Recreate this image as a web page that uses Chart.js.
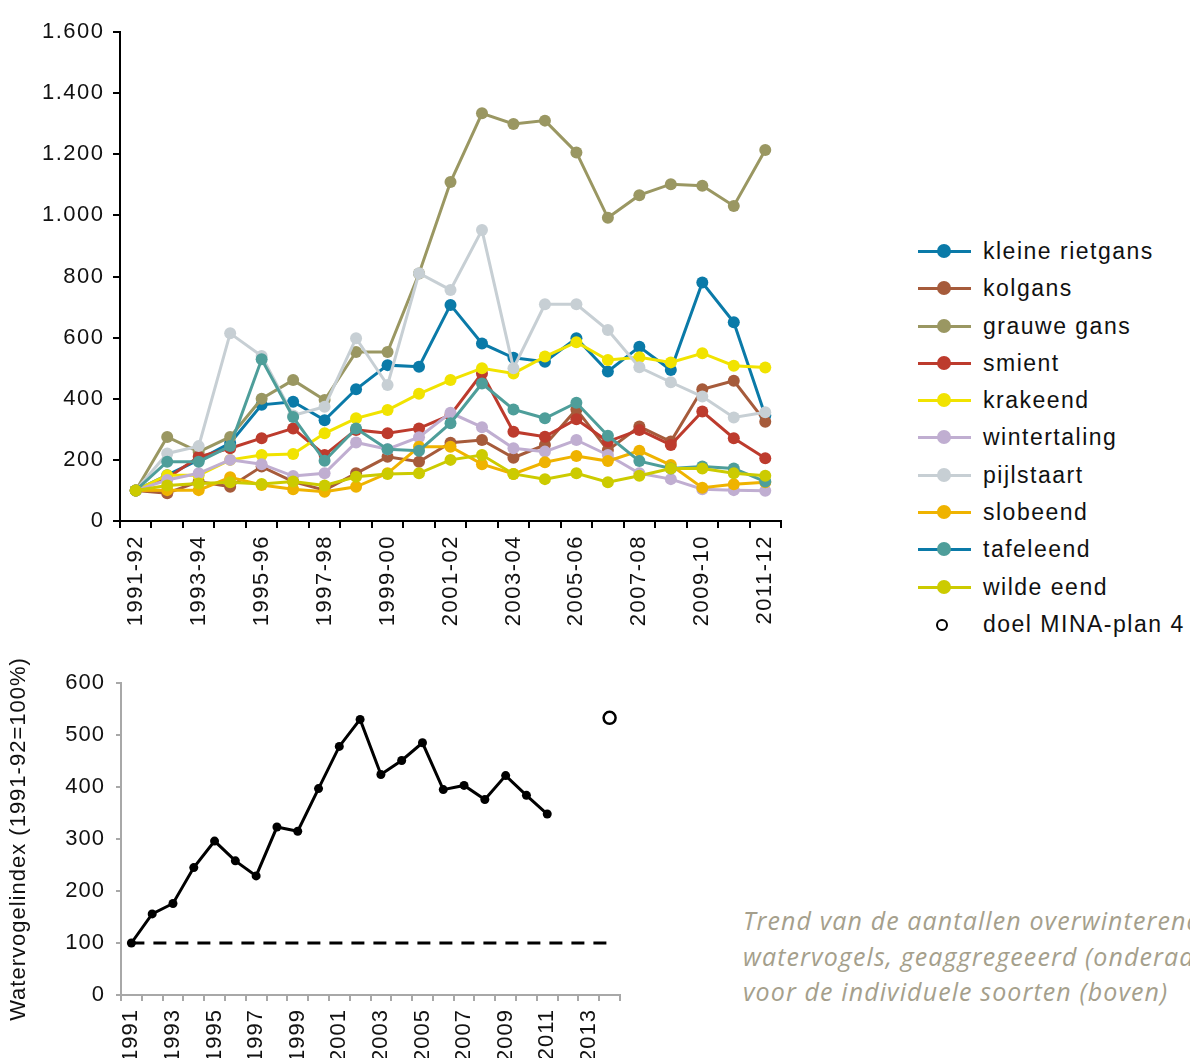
<!DOCTYPE html>
<html>
<head>
<meta charset="utf-8">
<script src="https://cdn.jsdelivr.net/npm/chart.js@4.4.1/dist/chart.umd.min.js"></script>
<style>
    html, body { margin: 0; padding: 0; background: #fff; overflow: hidden; }
    body { width: 1190px; height: 1058px; position: relative; font-family: "Liberation Sans", Arial, sans-serif; }
    #topChart { position: absolute; left: 0; top: 0; }
    #indexChart { position: absolute; left: 0; top: 640px; }
    #legend { position: absolute; left: 916px; top: 233px; }
    .item { height: 37.3px; line-height: 37.3px; white-space: nowrap; font-size: 23px; letter-spacing: 1.5px; color: #111; position: relative; padding-left: 67px; }
    .item .ln { position: absolute; left: 2px; top: 17px; width: 53px; height: 3px; }
    .item .dot { position: absolute; left: 21px; top: 11px; width: 14px; height: 14px; border-radius: 50%; }
    .item .ring { position: absolute; left: 20px; top: 13px; width: 8px; height: 8px; border-radius: 50%; border: 2px solid #000; background: #fff; }
    #caption { position: absolute; left: 743px; top: 903px; font-family: "Open Sans", sans-serif; font-style: italic; font-size: 25px; letter-spacing: 1.1px; line-height: 35.5px; color: #a59f8c; white-space: nowrap; }
</style>
</head>
<body>
<canvas id="topChart" width="800" height="640"></canvas>
<canvas id="indexChart" width="660" height="418"></canvas>
<div id="legend"></div>
<div id="caption">Trend van de aantallen overwinterende<br>watervogels, geaggregeeerd (onderaan)<br>voor de individuele soorten (boven)</div>
<script>
// seasons on the top chart
const seasons = ['1991-92', '1992-93', '1993-94', '1994-95', '1995-96', '1996-97', '1997-98',
    '1998-99', '1999-00', '2000-01', '2001-02', '2002-03', '2003-04', '2004-05', '2005-06',
    '2006-07', '2007-08', '2008-09', '2009-10', '2010-11', '2011-12'];

// index per species (1991-92 = 100)
const kleineRietgans = [100, 150, 200, 255, 380, 390, 330, 431, 510, 505, 707, 581, 534, 521, 598, 489, 570, 494, 780, 650, 345];
const kolgans        = [100, 91, 129, 112, 178, 129, 101, 156, 210, 194, 256, 265, 207, 249, 365, 232, 309, 260, 431, 459, 325];
const grauweGans     = [100, 275, 226, 275, 400, 461, 396, 553, 553, 810, 1109, 1334, 1299, 1310, 1206, 992, 1066, 1102, 1097, 1031, 1214];
const smient         = [100, 140, 210, 238, 271, 303, 216, 298, 287, 303, 347, 483, 292, 276, 333, 260, 298, 249, 358, 271, 205];
const krakeend       = [100, 150, 150, 200, 216, 219, 287, 336, 363, 416, 461, 500, 483, 538, 585, 527, 536, 519, 549, 508, 502];
const wintertaling   = [100, 134, 156, 200, 186, 147, 156, 257, 235, 274, 354, 307, 238, 227, 265, 216, 156, 137, 104, 101, 99];
const pijlstaart     = [100, 221, 245, 614, 540, 345, 374, 598, 445, 811, 756, 952, 500, 709, 709, 625, 503, 454, 407, 339, 356];
const slobeend       = [100, 101, 101, 143, 118, 104, 96, 112, 156, 243, 243, 186, 154, 192, 213, 196, 230, 183, 109, 120, 127];
const tafeleend      = [100, 194, 194, 245, 529, 340, 197, 303, 235, 230, 320, 450, 365, 336, 387, 279, 196, 172, 178, 172, 129];
const wildeEend      = [100, 116, 123, 127, 121, 129, 116, 145, 154, 156, 200, 216, 154, 137, 156, 127, 148, 172, 172, 156, 148];

// aggregated index, bottom chart
const years = ['1991', '1992', '1993', '1994', '1995', '1996', '1997', '1998', '1999', '2000', '2001', '2002',
    '2003', '2004', '2005', '2006', '2007', '2008', '2009', '2010', '2011', '2012', '2013', '2014'];
const watervogelIndex = [100, 156, 176, 245, 296, 258, 229, 323, 315, 397, 478, 530,
    424, 451, 485, 395, 403, 376, 422, 384, 348, null, null, null];
const baseline = [100, 100, 100, 100, 100, 100, 100, 100, 100, 100, 100, 100,
    100, 100, 100, 100, 100, 100, 100, 100, 100, 100, 100, 100];
const minaTarget = [null, null, null, null, null, null, null, null, null, null, null, null,
    null, null, null, null, null, null, null, null, null, null, null, 533];

const species = [
    { label: 'kleine rietgans', data: kleineRietgans, color: '#0a7aa8' },
    { label: 'kolgans', data: kolgans, color: '#a65b3b' },
    { label: 'grauwe gans', data: grauweGans, color: '#9a9762' },
    { label: 'smient', data: smient, color: '#bd3b2d' },
    { label: 'krakeend', data: krakeend, color: '#f1e300' },
    { label: 'wintertaling', data: wintertaling, color: '#c0aed1' },
    { label: 'pijlstaart', data: pijlstaart, color: '#c7cfd4' },
    { label: 'slobeend', data: slobeend, color: '#efb300' },
    { label: 'tafeleend', data: tafeleend, color: '#4e9e9a', lineColor: '#0a7aa8' },
    { label: 'wilde eend', data: wildeEend, color: '#cccb00' }
];

Chart.defaults.font.family = '"Liberation Sans", Arial, sans-serif';
Chart.defaults.color = '#111';
Chart.defaults.animation = false;

function dotted(v) {
    if (v >= 1000) return Math.floor(v / 1000) + '.' + String(v % 1000).padStart(3, '0');
    return String(v);
}

// the original typeface runs wider, so loosen the canvas text a bit
function tracking(px) {
    return {
        id: 'tracking',
        beforeDraw: function (chart) { chart.ctx.letterSpacing = px; }
    };
}

// top chart: one line per species, last one drawn on top like the original
new Chart(document.getElementById('topChart'), {
    type: 'line',
    data: {
        labels: seasons,
        datasets: species.map(function (s, i) {
            return {
                label: s.label,
                data: s.data,
                borderColor: s.color,
                backgroundColor: s.color,
                pointBackgroundColor: s.color,
                pointBorderWidth: 0,
                pointRadius: 6,
                borderWidth: 3,
                tension: 0,
                order: species.length - i
            };
        })
    },
    plugins: [tracking('1.5px')],
    options: {
        responsive: false,
        layout: { padding: { top: 32, right: 19, bottom: 0, left: 0 } },
        plugins: { legend: { display: false }, tooltip: { enabled: false } },
        scales: {
            x: {
                offset: true,
                grid: { offset: true, drawOnChartArea: false, tickLength: 7, color: '#000', lineWidth: 2 },
                border: { color: '#000', width: 2 },
                ticks: {
                    autoSkip: false, minRotation: 90, maxRotation: 90, padding: 7,
                    color: '#111', font: { size: 22 },
                    callback: function (v, i) { return i % 2 === 0 ? this.getLabelForValue(v) : ''; }
                },
                afterFit: function (scale) { scale.height = 119; }
            },
            y: {
                min: 0, max: 1600,
                grid: { drawOnChartArea: false, tickLength: 7, color: '#000', lineWidth: 2 },
                border: { color: '#000', width: 2 },
                ticks: { stepSize: 200, padding: 8.5, color: '#111', font: { size: 22 }, callback: dotted },
                afterFit: function (scale) { scale.width = 120; }
            }
        }
    }
});

// bottom chart: aggregated index with the 100 baseline and the MINA target
new Chart(document.getElementById('indexChart'), {
    type: 'line',
    data: {
        labels: years,
        datasets: [
            {
                label: 'Watervogelindex',
                data: watervogelIndex,
                borderColor: '#000',
                pointBackgroundColor: '#000',
                pointBorderWidth: 0,
                pointRadius: 4.5,
                borderWidth: 3,
                tension: 0
            },
            {
                label: 'basis',
                data: baseline,
                borderColor: '#000',
                borderWidth: 3,
                borderDash: [13, 9],
                pointRadius: 0,
                tension: 0
            },
            {
                label: 'doel MINA-plan 4',
                data: minaTarget,
                showLine: false,
                pointRadius: 6,
                pointBackgroundColor: '#fff',
                pointBorderColor: '#000',
                pointBorderWidth: 2.5
            }
        ]
    },
    plugins: [tracking('1px')],
    options: {
        responsive: false,
        layout: { padding: { top: 43, right: 40, bottom: 0, left: 0 } },
        plugins: { legend: { display: false }, tooltip: { enabled: false } },
        scales: {
            x: {
                offset: true,
                grid: { offset: true, drawOnChartArea: false, tickLength: 6, color: '#a8a8a8', lineWidth: 2 },
                border: { color: '#a8a8a8', width: 2 },
                ticks: {
                    autoSkip: false, minRotation: 90, maxRotation: 90, padding: 8,
                    color: '#111', font: { size: 22 },
                    callback: function (v, i) { return i % 2 === 0 ? this.getLabelForValue(v) : ''; }
                },
                afterFit: function (scale) { scale.height = 63; }
            },
            y: {
                min: 0, max: 600,
                grid: { drawOnChartArea: false, tickLength: 5, color: '#a8a8a8', lineWidth: 2 },
                border: { color: '#a8a8a8', width: 2 },
                ticks: { stepSize: 100, padding: 11, color: '#111', font: { size: 22 } },
                title: {
                    display: true, text: 'Watervogelindex (1991-92=100%)',
                    color: '#111', font: { size: 22 }, padding: { top: 6, bottom: 0 }
                },
                afterFit: function (scale) { scale.width = 121; }
            }
        }
    }
});

// legend, built from the species list
const legend = document.getElementById('legend');
species.forEach(function (s) {
    const row = document.createElement('div');
    row.className = 'item';
    row.innerHTML = '<span class="ln" style="background:' + (s.lineColor || s.color) + '"></span>' +
        '<span class="dot" style="background:' + s.color + '"></span>' + s.label;
    legend.appendChild(row);
});
const target = document.createElement('div');
target.className = 'item';
target.innerHTML = '<span class="ring"></span>doel MINA-plan 4';
legend.appendChild(target);
</script>
</body>
</html>
